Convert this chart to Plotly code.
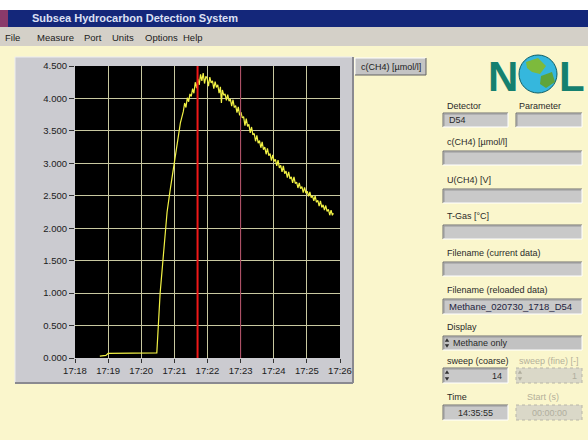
import plotly.graph_objects as go

W, H = 588, 440

# ---------------- data (minutes after 17:18, concentration) ----------------
t_min = [0.75, 0.93, 1.00, 1.50, 2.00, 2.47,
         2.57, 2.66, 2.72, 2.78, 2.87, 2.96, 3.03, 3.08, 3.13, 3.18, 3.23, 3.27,
         3.31, 3.35, 3.39, 3.43, 3.47, 3.51, 3.55, 3.59, 3.63, 3.67, 3.71, 3.75,
         3.79, 3.83, 3.87, 3.91, 3.95,
         3.99, 4.03, 4.07, 4.11, 4.15, 4.19, 4.23, 4.27, 4.31, 4.35, 4.39, 4.42,
         4.45, 4.49, 4.53, 4.57, 4.61, 4.65, 4.69, 4.73, 4.77, 4.81, 4.85, 4.89,
         4.93, 4.97, 5.01, 5.05, 5.09, 5.13, 5.17, 5.21, 5.25, 5.29, 5.33, 5.37,
         5.41, 5.45, 5.49, 5.53, 5.57, 5.61, 5.65, 5.69, 5.73, 5.77, 5.81, 5.85,
         5.89, 5.93, 5.97, 6.01, 6.05, 6.09, 6.13, 6.17, 6.21, 6.25, 6.29, 6.33,
         6.37, 6.41, 6.45, 6.49, 6.53, 6.57, 6.61, 6.65, 6.69, 6.73, 6.77, 6.81,
         6.85, 6.89, 6.93, 6.97, 7.01, 7.05, 7.09, 7.13, 7.17, 7.21, 7.25, 7.29,
         7.33, 7.37, 7.41, 7.45, 7.49, 7.53, 7.57, 7.61, 7.65, 7.69, 7.73, 7.77,
         7.80]
conc = [0.03, 0.04, 0.07, 0.07, 0.08, 0.08,
        1.00, 1.55, 1.90, 2.25, 2.58, 2.86, 3.08, 3.28, 3.45, 3.62, 3.70, 3.80,
        3.93, 3.86, 4.01, 3.95, 4.07, 4.03, 4.15, 4.08, 4.25, 4.16, 4.30, 4.21,
        4.37, 4.27, 4.39, 4.23, 4.34,
        4.31, 4.19, 4.33, 4.24, 4.27, 4.15, 4.26, 4.17, 4.21, 4.08, 4.18, 3.93,
        4.13, 4.05, 4.07, 3.97, 4.06, 3.96, 3.99, 3.88, 3.98, 3.86, 3.89, 3.78,
        3.87, 3.74, 3.79, 3.70, 3.72, 3.58, 3.69, 3.57, 3.60, 3.47, 3.56, 3.44,
        3.46, 3.34, 3.43, 3.31, 3.35, 3.24, 3.33, 3.21, 3.25, 3.14, 3.23, 3.12,
        3.15, 3.04, 3.13, 3.03, 3.06, 2.96, 3.05, 2.93, 2.97, 2.87, 2.96, 2.84,
        2.88, 2.78, 2.87, 2.76, 2.79, 2.70, 2.79, 2.69, 2.71, 2.62, 2.70, 2.61,
        2.64, 2.55, 2.63, 2.54, 2.57, 2.49, 2.56, 2.47, 2.50, 2.42, 2.50, 2.40,
        2.43, 2.34, 2.42, 2.32, 2.36, 2.28, 2.35, 2.26, 2.29, 2.20, 2.28, 2.20,
        2.23]

x_tickvals = [0, 1, 2, 3, 4, 5, 6, 7, 8]
x_ticklabels = ["17:18", "17:19", "17:20", "17:21", "17:22", "17:23", "17:24", "17:25", "17:26"]
y_tickvals = [0, 0.5, 1.0, 1.5, 2.0, 2.5, 3.0, 3.5, 4.0, 4.5]
y_ticklabels = ["0.000", "0.500", "1.000", "1.500", "2.000", "2.500", "3.000", "3.500", "4.000", "4.500"]
cursor_main = 3.70
cursor_second = 5.00

window_title = "Subsea Hydrocarbon Detection System"
menu_items = ["File", "Measure", "Port", "Units", "Options", "Help"]
series_name = "c(CH4) [µmol/l]"
detector = "D54"
reloaded_file = "Methane_020730_1718_D54"
display_mode = "Methane only"
sweep_coarse = "14"
sweep_fine = "1"
time_text = "14:35:55"
start_text = "00:00:00"

# ---------------- styling helpers ----------------
FONT = "Arial, Liberation Sans, sans-serif"
CREAM = "#FAF6CC"
FIELD = "#C9C9C9"
PLOT_L, PLOT_R, PLOT_T, PLOT_B = 75, 340, 66, 358

def px(x):
    return x / W

def py(y):
    return 1 - y / H

shapes = []
annots = []

def rect(x0, y0, x1, y1, fill, line=None, lw=0, dash=None, layer="below"):
    ln = dict(width=lw, color=line or fill)
    if dash:
        ln["dash"] = dash
    shapes.append(dict(type="rect", xref="paper", yref="paper",
                       x0=px(x0), x1=px(x1), y0=py(y1), y1=py(y0),
                       fillcolor=fill, line=ln, layer=layer))

def seg(x0, y0, x1, y1, color, lw=1, layer="below"):
    shapes.append(dict(type="line", xref="paper", yref="paper",
                       x0=px(x0), x1=px(x1), y0=py(y0), y1=py(y1),
                       line=dict(color=color, width=lw), layer=layer))

def sunken(x0, y0, x1, y1, fill=FIELD):
    rect(x0, y0, x1, y1, fill)
    seg(x0, y0, x1, y0, "#707070")
    seg(x0, y0, x0, y1, "#707070")
    seg(x0 + 1, y0 + 1, x1 - 1, y0 + 1, "#9A9A9A")
    seg(x0 + 1, y0 + 1, x0 + 1, y1 - 1, "#9A9A9A")
    seg(x0, y1, x1, y1, "#FFFFFF")
    seg(x1, y0, x1, y1, "#FFFFFF")

def raised(x0, y0, x1, y1, fill):
    rect(x0, y0, x1, y1, fill)
    seg(x0, y0, x1, y0, "#FFFFFF")
    seg(x0, y0, x0, y1, "#FFFFFF")
    seg(x0, y1, x1, y1, "#606060")
    seg(x1, y0, x1, y1, "#606060")

def text(x, y, s, size=9, color="#2A2A2A", anchor="left", bold=False, family=FONT):
    annots.append(dict(xref="paper", yref="paper", x=px(x), y=py(y),
                       text=("<b>%s</b>" % s) if bold else s, showarrow=False,
                       xanchor=anchor, yanchor="middle",
                       font=dict(size=size, color=color, family=family)))

def tri(cx, cy, up, color="#303030", s=2.2):
    if up:
        pts = [(cx - s, cy + s * 0.8), (cx + s, cy + s * 0.8), (cx, cy - s * 0.8)]
    else:
        pts = [(cx - s, cy - s * 0.8), (cx + s, cy - s * 0.8), (cx, cy + s * 0.8)]
    path = "M " + " L ".join("%f,%f" % (px(a), py(b)) for a, b in pts) + " Z"
    shapes.append(dict(type="path", xref="paper", yref="paper", path=path,
                       fillcolor=color, line=dict(width=0), layer="below"))

# ---------------- window chrome ----------------
rect(0, 0, W, 10, "#FFFFFF")
rect(0, 10, W, 27, "#14277A")
rect(0, 10, 8, 27, "#8A3A6A")
text(30, 18.5, window_title, size=11, color="#DCE0F4", bold=True)
rect(0, 27, W, 46, "#D4D0C8")
menu_x = [3, 35, 82, 110, 143, 181]
for mx, mname in zip(menu_x, menu_items):
    text(mx, 37, mname, size=9.5, color="#202020")

# chart panel
rect(15, 57, 353, 383, "#CBCBD0")
seg(15, 57, 353, 57, "#EDEDF0")
seg(15, 57, 15, 383, "#EDEDF0")
seg(15, 383, 353, 383, "#8A8A90", lw=2)
seg(353, 57, 353, 383, "#8A8A90", lw=2)
rect(PLOT_L, PLOT_T, PLOT_R, PLOT_B, "#000000")

# legend button
raised(355, 58, 426, 75, "#C4C4C4")
text(390.5, 66.5, series_name, size=9, color="#202020", anchor="center")

# ---------------- NGL logo ----------------
text(503, 76, "N", size=42, color="#15806F", anchor="center", bold=True)
shapes.append(dict(type="circle", xref="paper", yref="paper",
                   x0=px(519), x1=px(557), y0=py(93), y1=py(55),
                   fillcolor="#35B7DD", line=dict(color="#0E5E66", width=1), layer="below"))
blob1 = [(526, 62), (538, 58), (546, 66), (540, 74), (532, 72), (527, 68)]
blob2 = [(541, 76), (552, 72), (555, 82), (546, 88), (540, 84)]
for blob, col in ((blob1, "#7DBA3C"), (blob2, "#5FA43A")):
    path = "M " + " L ".join("%f,%f" % (px(a), py(b)) for a, b in blob) + " Z"
    shapes.append(dict(type="path", xref="paper", yref="paper", path=path,
                       fillcolor=col, line=dict(width=0), layer="below"))
text(572, 76, "L", size=42, color="#15806F", anchor="center", bold=True)

# ---------------- right-hand control panel ----------------
text(445, 106, "Detector")
text(517, 106, "Parameter")
sunken(443, 113, 508, 127)
text(447, 120, detector)
sunken(516, 113, 582, 127)

text(445, 142, series_name)
sunken(443, 151, 582, 165)
text(445, 180, "U(CH4) [V]")
sunken(443, 189, 582, 203)
text(445, 216, "T-Gas [°C]")
sunken(443, 225, 582, 239)
text(445, 253, "Filename (current data)")
sunken(443, 262, 582, 276)
text(445, 290, "Filename (reloaded data)")
sunken(443, 299, 582, 314)
text(447, 306.5, reloaded_file, size=9.5, color="#1E1E40")

text(445, 327, "Display")
sunken(443, 336, 582, 350, fill="#C2C2C2")
tri(447, 340, True)
tri(447, 346, False)
text(451, 343, display_mode)

text(445, 361, "sweep (coarse)")
text(517, 361, "sweep (fine) [-]", color="#B4B09A")
sunken(443, 368, 508, 383)
tri(447, 372, True)
tri(447, 379, False)
text(504, 375.5, sweep_coarse, anchor="right")
rect(516, 368, 582, 383, "#DAD8C8", line="#B8B6A8", lw=1, dash="dot")
tri(520, 372, True, color="#B0AE9E")
tri(520, 379, False, color="#B0AE9E")
text(579, 375.5, sweep_fine, color="#B0AE9E", anchor="right")

text(445, 397, "Time")
text(525, 397, "Start (s)", color="#B4B09A")
sunken(443, 405, 508, 420)
text(475.5, 412.5, time_text, anchor="center")
rect(516, 405, 582, 420, "#DAD8C8", line="#B8B6A8", lw=1, dash="dot")
text(549, 412.5, start_text, color="#B0AE9E", anchor="center")

# ---------------- cursors ----------------
shapes.append(dict(type="line", xref="x", yref="y", x0=cursor_second, x1=cursor_second,
                   y0=0, y1=4.5, line=dict(color="#A8405E", width=1), layer="above"))
shapes.append(dict(type="line", xref="x", yref="y", x0=cursor_main, x1=cursor_main,
                   y0=0, y1=4.5, line=dict(color="#F01818", width=2), layer="above"))

# ---------------- figure ----------------
fig = go.Figure()
fig.add_trace(go.Scatter(x=t_min, y=conc, mode="lines", name=series_name,
                         line=dict(color="#F2F244", width=1.2), showlegend=False))

fig.update_layout(
    template="none",
    width=W, height=H, autosize=False,
    margin=dict(l=0, r=0, t=0, b=0, pad=0),
    paper_bgcolor=CREAM, plot_bgcolor="#000000",
    shapes=shapes, annotations=annots, showlegend=False,
    font=dict(family=FONT),
    xaxis=dict(domain=[px(PLOT_L), px(PLOT_R)], range=[0, 8], tickvals=x_tickvals,
               ticktext=x_ticklabels, showgrid=True, gridcolor="#C8C8A0", gridwidth=1,
               zeroline=False, showline=False, ticks="outside", ticklen=4,
               automargin=False,
               tickcolor="#333333", tickfont=dict(size=9.5, color="#202020")),
    yaxis=dict(domain=[py(PLOT_B), py(PLOT_T)], range=[0, 4.5], tickvals=y_tickvals,
               ticktext=y_ticklabels, showgrid=True, gridcolor="#C8C8A0", gridwidth=1,
               zeroline=False, showline=False, ticks="outside", ticklen=5,
               automargin=False,
               tickcolor="#333333", tickfont=dict(size=9.5, color="#202020")),
)

fig.write_html("out.html", config={"displayModeBar": False},
               post_script="document.body.style.margin='0';document.body.style.overflow='hidden';")
